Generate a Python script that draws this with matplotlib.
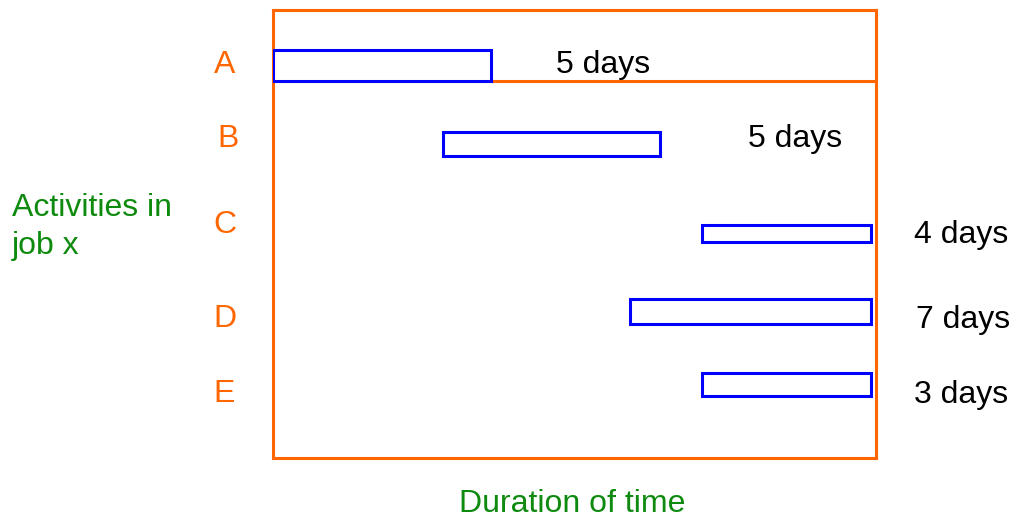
import matplotlib
matplotlib.use("Agg")
import matplotlib.pyplot as plt
import matplotlib.transforms as mtransforms

plt.rcParams['font.family'] = ['Liberation Sans', 'DejaVu Sans']

# Data
activities = ["A", "B", "C", "D", "E"]
start = [0.0, 28.2, 71.1, 59.2, 71.1]
end = [36.2, 64.2, 99.2, 99.2, 99.2]
duration_labels = ["5 days", "5 days", "4 days", "7 days", "3 days"]

# Layout (vertical positions, in axes pixel units from top)
bar_y = [55.5, 134, 223.5, 301.5, 374.5]
bar_h = [31, 24, 17, 25, 23]
letter_y = [55, 129, 215, 309, 384]
letter_x = [-0.081, -0.075, -0.080, -0.080, -0.081]
dur_x = [54.7, 86.6, 114.1, 114.4, 114.1]
dur_y = [55, 129, 225, 310, 385]

ORANGE = "#FF6600"
BLUE = "#0000FF"
GREEN = "#0E8A0E"
FS = 23

fig = plt.figure(figsize=(10.10, 5.18), dpi=100)
ax = fig.add_axes([273/1010, 1-458/518, 603/1010, 448/518])
ax.set_xlim(0, 100)
ax.set_ylim(448, 0)
ax.set_xticks([])
ax.set_yticks([])
for s in ax.spines.values():
    s.set_color(ORANGE)
    s.set_linewidth(2.2)

# horizontal separator line below activity A
ax.axhline(71, color=ORANGE, lw=2.2, zorder=1)

widths = [e - s for s, e in zip(start, end)]
ax.barh(bar_y, widths, left=start, height=bar_h, facecolor="white",
        edgecolor=BLUE, linewidth=2.2, zorder=3)

trans = mtransforms.blended_transform_factory(ax.transAxes, ax.transData)
for lab, lx, ly in zip(activities, letter_x, letter_y):
    ax.text(lx, ly, lab, transform=trans, ha="center", va="center",
            color=ORANGE, fontsize=FS, clip_on=False)

for lab, dx, dy in zip(duration_labels, dur_x, dur_y):
    ax.text(dx, dy, lab, ha="center", va="center", color="black",
            fontsize=FS, clip_on=False)

fig.text(12/1010, 1-227/518, "Activities in\njob x", ha="left", va="center",
         color=GREEN, fontsize=FS, linespacing=1.38)
fig.text(572/1010, 1-504/518, "Duration of time", ha="center", va="center",
         color=GREEN, fontsize=FS)

fig.savefig("out.png", dpi=100)
